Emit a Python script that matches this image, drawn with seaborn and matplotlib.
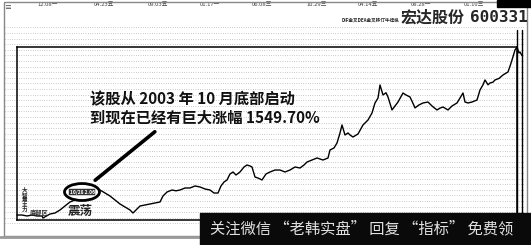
import numpy as np
import pandas as pd
import matplotlib
matplotlib.use("Agg")
import matplotlib.pyplot as plt
import seaborn as sns
from matplotlib.ticker import MultipleLocator
from matplotlib.patches import Ellipse, Rectangle
from matplotlib.lines import Line2D

# ---------------- data ----------------
days = [0, 5, 10, 15, 20, 25, 26, 33, 38, 43, 48, 53, 58, 63, 68, 73, 78, 83, 88, 93,
        98, 103, 108, 113, 116, 119, 123, 128, 133, 138, 143, 146, 150, 155, 159, 163,
        168, 173, 178, 183, 188, 193, 197, 201, 204, 207, 210, 213, 216, 219, 223, 227,
        230, 233, 235, 238, 241, 245, 249, 253, 258, 263, 268, 273, 278, 283, 287, 290,
        295, 300, 303, 306, 311, 313, 317, 320, 323, 325, 328, 331, 333, 336, 341, 346,
        351, 355, 358, 361, 363, 366, 369, 371, 375, 378, 381, 386, 389, 393, 396, 398,
        402, 406, 411, 415, 420, 423, 426, 431, 435, 440, 443, 446, 448, 451, 455, 460,
        463, 466, 468, 471, 473, 476, 478, 482, 486, 491, 493, 495, 498, 500, 502, 503, 505]
prices = [1.43, 1.43, 1.25, 1.43, 1.25, 1.25, 0.87, 1.62, 1.81, 2.38, 3.13, 3.89, 4.26,
          4.83, 5.40, 5.96, 6.34, 6.15, 5.58, 5.02, 4.26, 3.51, 2.94, 2.38, 1.81, 2.38,
          3.13, 3.32, 3.51, 3.70, 3.89, 5.02, 5.77, 6.15, 6.00, 6.15, 6.53, 6.53, 6.91,
          6.72, 6.34, 6.15, 5.58, 5.58, 6.91, 7.66, 8.04, 9.17, 9.55, 8.98, 9.55, 10.49,
          10.87, 10.68, 10.49, 8.60, 8.41, 8.04, 9.17, 9.55, 9.92, 9.92, 9.55, 9.92, 10.49,
          10.30, 10.87, 11.43, 11.81, 12.19, 12.00, 11.81, 12.19, 13.70, 14.08, 15.02,
          16.91, 18.42, 16.53, 16.91, 16.53, 16.15, 16.72, 18.42, 19.36, 20.68, 22.57,
          23.50, 25.96, 24.08, 24.50, 23.70, 21.25, 22.00, 22.75, 24.45, 24.08, 23.70,
          22.50, 21.64, 22.20, 22.57, 22.75, 22.00, 21.25, 21.60, 21.81, 21.25, 22.00,
          22.57, 23.50, 24.45, 22.75, 22.57, 22.75, 23.13, 25.02, 26.00, 26.91, 26.00,
          26.34, 26.50, 26.91, 27.20, 27.85, 28.42, 29.50, 30.68, 32.57, 33.13, 32.00,
          32.19, 31.50]

top_labels = ["12.08一", "04.23五", "09.03五", "01.17一", "06.08三",
              "10.29三", "04.14五", "08.28一", "01.10三"]
top_label_days = [31, 87, 141, 193, 245, 300, 351, 404, 457]

stock_name = "宏达股份"
stock_code = "600331"
indicator_text = "DIF金叉DEA金叉移仃牛操纵"
note_lines = ["该股从 2003 年 10 月底部启动", "到现在已经有巨大涨幅 1549.70%"]
watermark = "关注微信 “老韩实盘” 回复 “指标” 免费领"

df = pd.DataFrame({"day": days, "price": prices})

# ---------------- style ----------------
sns.set_theme(style="white")
plt.rcParams["font.family"] = ["Noto Sans CJK SC", "DejaVu Sans"]

W, H = 531, 245
fig = plt.figure(figsize=(W / 100, H / 100), dpi=100)
fig.patch.set_facecolor("white")


def fx(x):
    return x / W


def fy(y):
    return 1 - y / H


# background dotted grid
ax_bg = fig.add_axes([fx(5), fy(229), 520 / W, 204 / H])
ax_bg.set_xlim(0, 1)
ax_bg.set_ylim(0, 204)
ax_bg.yaxis.set_major_locator(MultipleLocator(5.6))
ax_bg.grid(axis="y", color="#8a8a8a", lw=0.55, linestyle=(0, (0.7, 2.3)))
ax_bg.set_xticks([])
ax_bg.tick_params(left=False, labelleft=False)
for s in ax_bg.spines.values():
    s.set_visible(False)
ax_bg.set_facecolor("none")

# main price axes
ax = fig.add_axes([fx(17), fy(220), 500 / W, 173 / H])
ax.set_facecolor("none")
sns.lineplot(data=df, x="day", y="price", ax=ax, color="black", lw=1.0,
             clip_on=False)
ax.set_xlim(0, 500)
ax.set_ylim(0.49, 33.13)
ax.set_xticks([])
ax.set_yticks([])
ax.set_xlabel("")
ax.set_ylabel("")
for s in ax.spines.values():
    s.set_visible(True)
    s.set_color("black")
    s.set_linewidth(1.1)

# top date labels
for d, lab in zip(top_label_days, top_labels):
    ax.text(d, 1.243, lab, transform=ax.get_xaxis_transform(), fontsize=4.2,
            color="#444444", ha="center", va="center")

# annotation text and arrow line
ax.text(73, 23.3, note_lines[0], fontsize=11, weight="bold", color="#111111",
        ha="left", va="center")
ax.text(73, 19.75, note_lines[1], fontsize=11, weight="bold", color="#111111",
        ha="left", va="center")
ax.annotate("", xy=(76, 7.66), xytext=(140, 17.47),
            arrowprops=dict(arrowstyle="-", lw=2.6, color="black"))
ell = Ellipse((65, 5.77), 35, 3.2, facecolor="white", edgecolor="black", lw=2.0,
              zorder=5)
ax.add_patch(ell)
ax.text(65, 5.77, "10/28 2.06", fontsize=3.5, weight="bold", color="white",
        ha="center", va="center", zorder=6,
        bbox=dict(boxstyle="round,pad=0.15", fc="#333333", ec="none"))

# small decorative texts bottom-left
fig.text(fx(22), fy(200), "大\n智\n慧\n主\n力", fontsize=4, weight="bold",
         ha="left", va="center", linespacing=1.0)
fig.text(fx(30), fy(212), "底部区", fontsize=4.5, weight="bold", ha="left",
         va="center")
fig.text(fx(80), fy(211), "震荡", fontsize=9, weight="bold", ha="center",
         va="center", color="#222222")

# header texts
fig.text(fx(342), fy(20), indicator_text, fontsize=3.3, weight="bold",
         ha="left", va="center")
fig.text(fx(401), fy(17.5), stock_name, fontsize=11.5, weight="bold", ha="left",
         va="center")
fig.text(fx(470), fy(17.5), stock_code, fontsize=11.5, weight="bold", ha="left",
         va="center", family="DejaVu Sans Mono")
fig.text(fx(4), fy(8), "≡", fontsize=5, ha="left", va="center", color="#444444")

# frame pieces
fig.add_artist(Rectangle((fx(4), fy(236)), 523 / W, 234 / H, fill=False,
                         edgecolor="#888888", lw=1.0, transform=fig.transFigure))
fig.add_artist(Line2D([fx(0), fx(531)], [fy(237), fy(237)], color="#999999",
                      lw=2.0, transform=fig.transFigure))
for xv in (517, 522):
    fig.add_artist(Line2D([fx(xv), fx(xv)], [fy(30), fy(236)], color="black",
                          lw=1.0, transform=fig.transFigure))
fig.add_artist(Rectangle((fx(497), fy(7)), 34 / W, 7 / H, color="black",
                         transform=fig.transFigure))

# watermark band
fig.add_artist(Rectangle((fx(200), 0), 331 / W, 32 / H, color="#0a0a0a",
                         transform=fig.transFigure, zorder=10))
fig.text(fx(210), fy(229), watermark, fontsize=11, color="#e2e2e2", ha="left",
         va="center", zorder=11)

fig.savefig("out.png", dpi=100)
